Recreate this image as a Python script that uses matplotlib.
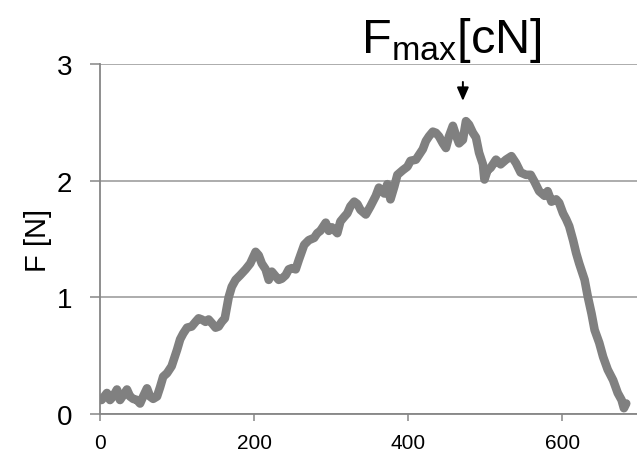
import matplotlib
matplotlib.use('Agg')
import matplotlib.pyplot as plt

plt.rcParams['font.family'] = ['Liberation Sans', 'DejaVu Sans']
plt.rcParams['mathtext.fontset'] = 'custom'
plt.rcParams['mathtext.rm'] = 'Liberation Sans'
plt.rcParams['mathtext.it'] = 'Liberation Sans'

# force trace
t = [2, 9, 13, 17, 22, 26, 30, 35, 39, 43, 48, 52, 56, 61, 65, 69, 74, 78, 82, 87,
     93, 100, 104, 108, 113, 119, 124, 128, 132, 137, 141, 145, 150, 154, 158, 162, 167, 171, 176, 182,
     189, 195, 202, 206, 210, 215, 219, 223, 228, 232, 236, 241, 245, 249, 254, 258, 265, 271, 278, 282,
     286, 293, 297, 301, 308, 312, 317, 321, 325, 330, 334, 338, 345, 351, 358, 362, 369, 373, 377, 382,
     386, 393, 399, 403, 410, 414, 419, 423, 427, 432, 436, 440, 445, 449, 453, 458, 462, 466, 471, 475,
     479, 484, 488, 492, 497, 499, 503, 507, 514, 520, 527, 534, 540, 546, 553, 559, 564, 570, 577, 581,
     586, 592, 596, 601, 605, 609, 614, 618, 622, 627, 629, 633, 638, 642, 648, 653, 659, 666, 672, 677,
     680, 683]
force = [0.12, 0.18, 0.12, 0.15, 0.21, 0.12, 0.16, 0.21, 0.15, 0.13, 0.12, 0.09, 0.15, 0.22, 0.15, 0.13, 0.15, 0.23, 0.32, 0.35,
         0.41, 0.55, 0.64, 0.69, 0.74, 0.75, 0.79, 0.82, 0.81, 0.79, 0.81, 0.78, 0.74, 0.75, 0.79, 0.82, 1.00, 1.09, 1.15, 1.19,
         1.24, 1.29, 1.39, 1.36, 1.29, 1.24, 1.15, 1.22, 1.18, 1.15, 1.16, 1.19, 1.24, 1.25, 1.24, 1.32, 1.45, 1.49, 1.51, 1.55,
         1.57, 1.64, 1.57, 1.60, 1.55, 1.65, 1.69, 1.72, 1.78, 1.82, 1.80, 1.75, 1.71, 1.78, 1.87, 1.94, 1.89, 1.97, 1.84, 1.95,
         2.05, 2.09, 2.12, 2.17, 2.18, 2.22, 2.27, 2.34, 2.38, 2.42, 2.41, 2.38, 2.32, 2.28, 2.38, 2.47, 2.39, 2.32, 2.35, 2.51,
         2.48, 2.41, 2.37, 2.24, 2.14, 2.01, 2.09, 2.11, 2.18, 2.14, 2.18, 2.21, 2.15, 2.07, 2.05, 2.05, 1.99, 1.91, 1.87, 1.91,
         1.82, 1.84, 1.81, 1.72, 1.67, 1.61, 1.49, 1.38, 1.29, 1.19, 1.15, 1.01, 0.86, 0.72, 0.61, 0.49, 0.38, 0.29, 0.18, 0.12,
         0.05, 0.09]
xticks = [0, 200, 400, 600]
yticks = [0, 1, 2, 3]
fmax_x = 471

fig = plt.figure(figsize=(6.37, 4.52), dpi=100)
ax = fig.add_axes([100/637, 1-415/452, 537/637, 350/452])
ax.plot(t, force, color='#808080', lw=6.2, solid_joinstyle='round', solid_capstyle='round', zorder=3)

ax.set_xlim(0, 697)
ax.set_ylim(0, 3)
ax.set_xticks(xticks)
ax.set_yticks(yticks)
ax.tick_params(axis='x', labelsize=15, length=5, width=1.1, color='#868686', pad=9)
ax.tick_params(axis='y', labelsize=20, length=7, width=1.1, color='#868686', pad=13)
ax.grid(axis='y', color='#a6a6a6', lw=1.3)
ax.set_axisbelow(True)
for s in ['top', 'right']:
    ax.spines[s].set_visible(False)
for s in ['left', 'bottom']:
    ax.spines[s].set_color('#868686')
    ax.spines[s].set_linewidth(1.3)
ax.set_ylabel('F [N]', fontsize=21, labelpad=2)
ax.yaxis.set_label_coords(-48/537, 0.5)

ax.text(456, 3.1, r'$\mathregular{F_{max}[cN]}$', fontsize=35, ha='center', va='baseline', clip_on=False)
ax.annotate('', xy=(fmax_x, 2.66), xytext=(fmax_x, 2.87), annotation_clip=False,
            arrowprops=dict(arrowstyle='-|>,head_width=0.35,head_length=0.8', color='black', lw=1.4))

fig.savefig('out.png', dpi=100)
